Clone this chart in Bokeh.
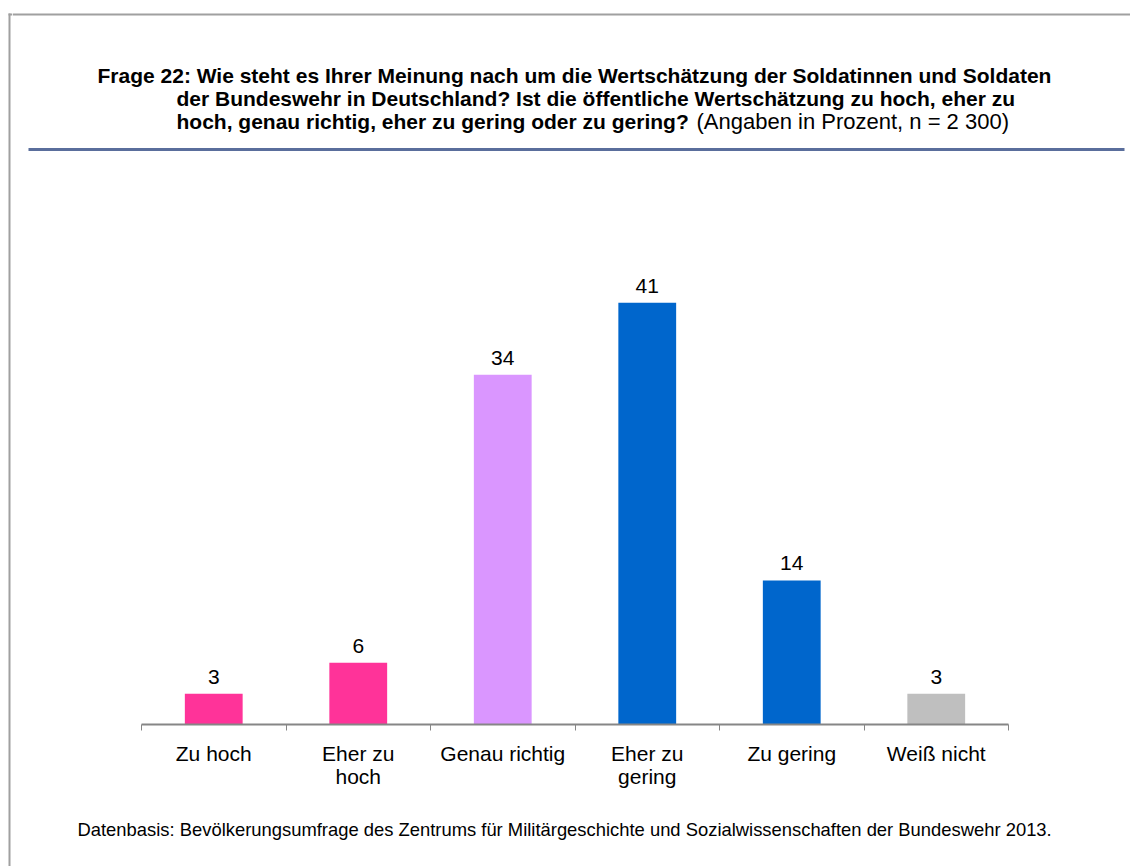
from bokeh.plotting import figure
from bokeh.layouts import row, column
from bokeh.models import (Range1d, LinearAxis, FixedTicker, Label,
                          LabelSet, ColumnDataSource)
from bokeh.core.properties import value
from bokeh.embed import file_html
from bokeh.resources import INLINE

categories = ["Zu hoch", "Eher zu hoch", "Genau richtig", "Eher zu gering", "Zu gering", "Weiß nicht"]
tick_labels = ["Zu hoch", "Eher zu\nhoch", "Genau richtig", "Eher zu\ngering", "Zu gering", "Weiß nicht"]
values = [3, 6, 34, 41, 14, 3]
colors = ["#FF3399", "#FF3399", "#DA96FF", "#0066CC", "#0066CC", "#BFBFBF"]

title_lines = [
    "Frage 22: Wie steht es Ihrer Meinung nach um die Wertschätzung der Soldatinnen und Soldaten",
    "der Bundeswehr in Deutschland? Ist die öffentliche Wertschätzung zu hoch, eher zu",
    "hoch, genau richtig, eher zu gering oder zu gering?",
]
title_note = "(Angaben in Prozent, n = 2 300)"
footer = "Datenbasis: Bevölkerungsumfrage des Zentrums für Militärgeschichte und Sozialwissenschaften der Bundeswehr 2013."

FONT = "Liberation Sans"
BORDER = "#A0A0A0"
n = len(categories)
pos = list(range(n))

# layout (page pixels)
W_TOTAL = 1130
STRIP_W = 12
W = W_TOTAL - STRIP_W
H_HEAD = 160
H_CHART = 660
H_FOOT = 46
H_TOTAL = H_HEAD + H_CHART + H_FOOT
AX_LEFT, AX_RIGHT = 141, 1008      # extent of the category axis
FRAME_TOP, FRAME_BOTTOM = 261, 724  # y = 45 .. y = 0


def blank(width, height, x0, x1, y0, y1, **kw):
    f = figure(width=width, height=height, x_range=Range1d(x0, x1), y_range=Range1d(y0, y1),
               output_backend="svg", toolbar_location=None,
               x_axis_location=None, y_axis_location=None,
               min_border=0, min_border_left=0, min_border_right=0,
               min_border_top=kw.get("top", 0), min_border_bottom=kw.get("bottom", 0))
    f.outline_line_color = None
    f.xgrid.visible = False
    f.ygrid.visible = False
    f.background_fill_color = "white"
    f.border_fill_color = "white"
    return f


# left strip with the frame's left border
strip = blank(STRIP_W, H_TOTAL, 0, STRIP_W, H_TOTAL, 0)
strip.quad(left=[8], right=[10], top=[13], bottom=[H_TOTAL], fill_color=BORDER, line_color=None)
strip.quad(left=[8], right=[STRIP_W], top=[13], bottom=[15], fill_color=BORDER, line_color=None)

# header in page coordinates
head = blank(W, H_HEAD, STRIP_W, W_TOTAL, H_HEAD, 0)
head.quad(left=[STRIP_W], right=[W_TOTAL], top=[13], bottom=[15], fill_color=BORDER, line_color=None)
head.quad(left=[28], right=[1124], top=[147.5], bottom=[150.5], fill_color="#5A6E9C", line_color=None)
title_x = [97, 176, 176]
title_y = [75, 98, 121]
for t, x, y in zip(title_lines, title_x, title_y):
    head.add_layout(Label(x=x, y=y, text=t, text_font=FONT, text_font_size="21px",
                          text_font_style="bold", text_baseline="middle", text_align="left",
                          text_color="#000000"))
head.add_layout(Label(x=696, y=121, text=title_note, text_font=FONT, text_font_size="22px",
                      text_baseline="middle", text_align="left", text_color="#000000"))

# chart: frame spans the full width; the axis is bounded to the categories
unit = (AX_RIGHT - AX_LEFT) / n
x_start = -0.5 - (AX_LEFT - STRIP_W) / unit
x_end = (n - 0.5) + (W_TOTAL - AX_RIGHT) / unit
p = blank(W, H_CHART, x_start, x_end, 0, 45,
          top=FRAME_TOP - H_HEAD, bottom=H_HEAD + H_CHART - FRAME_BOTTOM)

src = ColumnDataSource(dict(x=pos, cat=categories, val=values, col=colors, txt=[str(v) for v in values]))
p.vbar(x="x", top="val", width=0.4, fill_color="col", line_color=None, source=src)

p.add_layout(LabelSet(x="x", y="val", text="txt", source=src, y_offset=17,
                      text_align="center", text_baseline="middle",
                      text_font=value(FONT), text_font_size="21px", text_color="#000000"))

ax = LinearAxis(ticker=FixedTicker(ticks=pos, minor_ticks=[i - 0.5 for i in range(n + 1)]),
                bounds=(-0.5, n - 0.5))
ax.major_label_overrides = {i: tick_labels[i] for i in range(n)}
ax.axis_line_color = "#868686"
ax.axis_line_width = 2
ax.major_tick_line_color = None
ax.major_tick_out = 0
ax.major_tick_in = 0
ax.minor_tick_line_color = "#868686"
ax.minor_tick_out = 6
ax.minor_tick_in = 0
ax.minor_tick_line_width = 1
ax.major_label_standoff = 11
ax.major_label_text_font = FONT
ax.major_label_text_font_size = "21px"
ax.major_label_text_color = "#000000"
ax.major_label_text_line_height = 1.0
p.add_layout(ax, "below")

# footer
y0 = H_HEAD + H_CHART
foot = blank(W, H_FOOT, STRIP_W, W_TOTAL, y0 + H_FOOT, y0)
foot.add_layout(Label(x=77, y=829, text=footer, text_font=FONT, text_font_size="18.4px",
                      text_baseline="middle", text_align="left", text_color="#000000"))

layout = row(strip, column(head, p, foot))
open("out.html", "w").write(file_html(layout, INLINE))
